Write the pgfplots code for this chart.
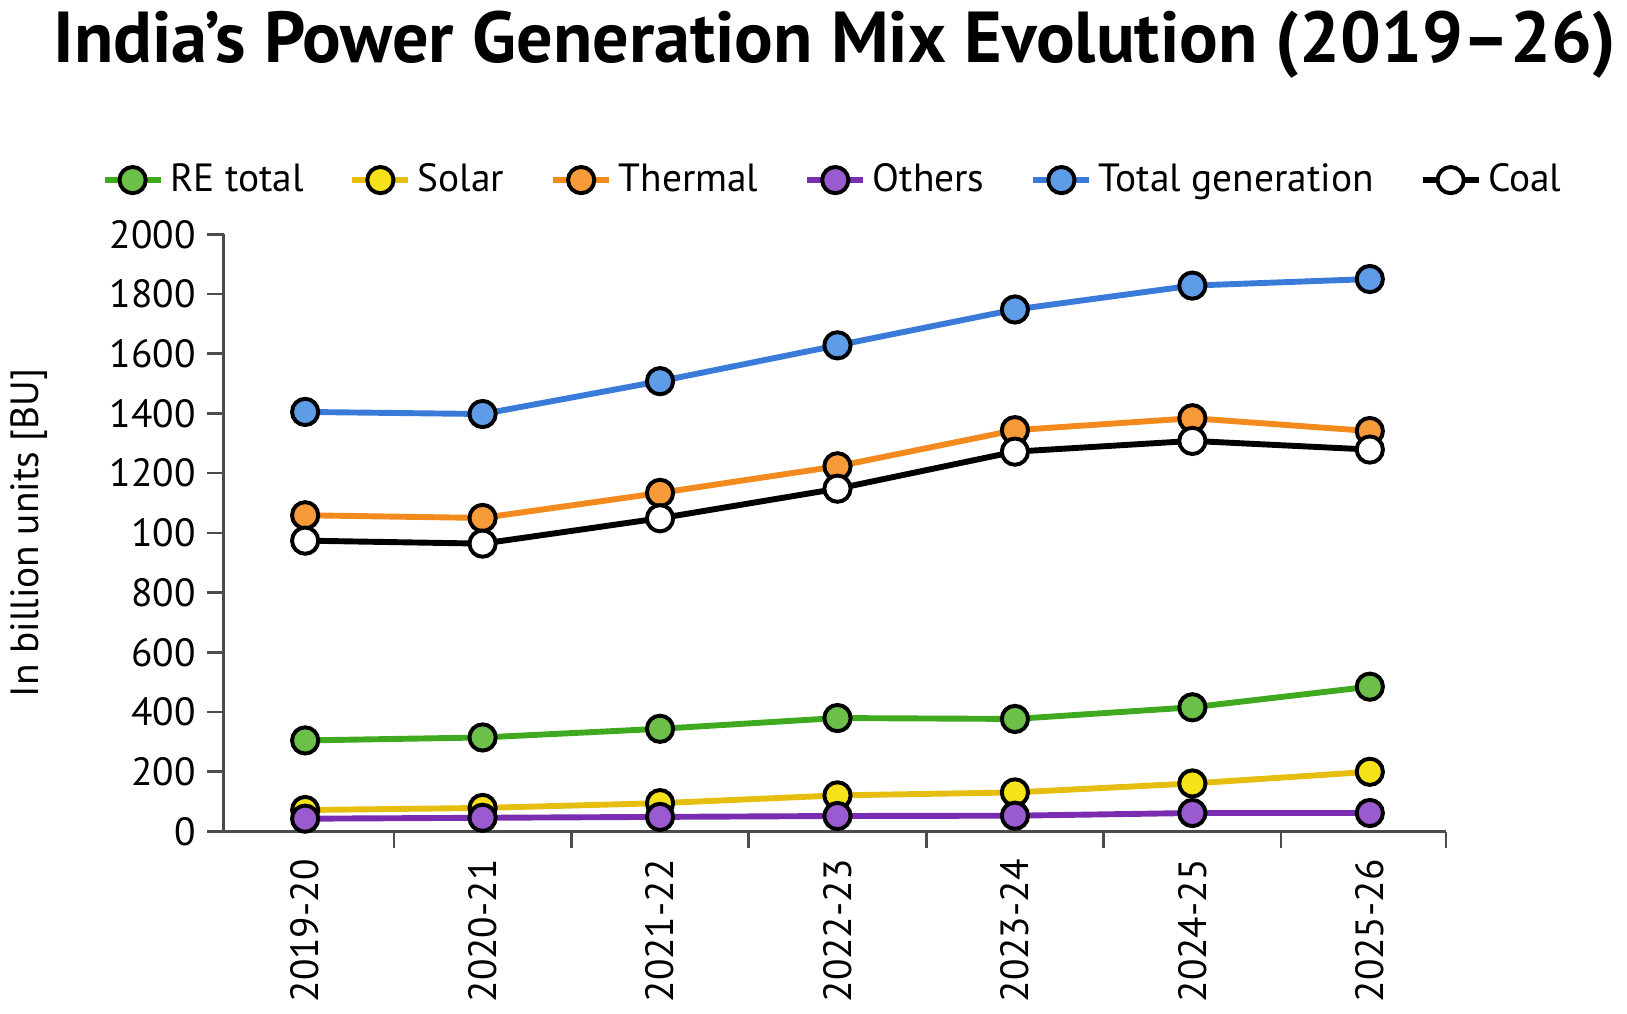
\documentclass[border=0pt]{standalone}
\usepackage{pgfplots}
\pgfplotsset{compat=1.18}
\usepackage{fontspec}
\setmainfont{PT Sans}
\definecolor{cre}{HTML}{3FAA1F}\definecolor{fre}{HTML}{6CC04A}
\definecolor{cso}{HTML}{E6BE10}\definecolor{fso}{HTML}{F7E21A}
\definecolor{cth}{HTML}{F28A1E}\definecolor{fth}{HTML}{F79A3A}
\definecolor{cot}{HTML}{7A2DB0}\definecolor{fot}{HTML}{9B5BD0}
\definecolor{cto}{HTML}{3A7BDA}\definecolor{fto}{HTML}{5E9CE8}
\begin{document}
\begin{tikzpicture}
\begin{axis}[
 scale only axis, width=13.1cm, height=6.4cm,
 xmin=-0.46, xmax=6.43, ymin=0, ymax=2000,
 axis lines=left, axis line style={-, thick, black!70},
 xtick={0,...,6}, xticklabels={2019-20,2020-21,2021-22,2022-23,2023-24,2024-25,2025-26},
 xticklabel style={rotate=90, anchor=east, font=\large},
 major x tick style={draw=none},
 minor xtick={0.5,1.5,2.5,3.5,4.5,5.5,6.43},
 minor x tick style={black!70, thick}, minor tick length=5pt,
 tick align=outside,
 ytick={0,200,...,2000}, yticklabels={0,200,400,600,800,100,1200,1400,1600,1800,2000},
 yticklabel style={font=\large},
 y tick style={black!70, thick}, major tick length=5pt,
 ylabel={In billion units [BU]}, ylabel style={font=\large, yshift=12pt},
 /pgf/number format/assume math mode=true,
 title={\bfseries India’s Power Generation Mix Evolution (2019–26)},
 title style={font=\fontsize{22}{26}\selectfont, yshift=38pt},
 legend columns=-1, legend style={draw=none, at={(0.5,1.04)}, anchor=south, font=\large, /tikz/every even column/.append style={column sep=12pt}},
 legend image code/.code={\draw[#1] (0cm,0cm) -- (0.6cm,0cm); \draw[#1, mark repeat=1] plot coordinates {(0.3cm,0cm)};},
 every axis plot/.append style={line width=1.8pt, mark=*, mark size=4pt},
]
\addplot[cre, mark options={fill=fre, draw=black, line width=1.2pt}] coordinates {(0,305)(1,315)(2,344)(3,380)(4,377)(5,416)(6,485)};
\addlegendentry{RE total}
\addplot[cso, mark options={fill=fso, draw=black, line width=1.2pt}] coordinates {(0,72)(1,79)(2,95)(3,121)(4,131)(5,161)(6,200)};
\addlegendentry{Solar}
\addplot[cth, mark options={fill=fth, draw=black, line width=1.2pt}] coordinates {(0,1059)(1,1050)(2,1134)(3,1223)(4,1344)(5,1384)(6,1341)};
\addlegendentry{Thermal}
\addplot[cot, mark options={fill=fot, draw=black, line width=1.2pt}] coordinates {(0,43)(1,46)(2,49)(3,52)(4,53)(5,62)(6,62)};
\addlegendentry{Others}
\addplot[cto, mark options={fill=fto, draw=black, line width=1.2pt}] coordinates {(0,1405)(1,1398)(2,1508)(3,1628)(4,1748)(5,1828)(6,1850)};
\addlegendentry{Total generation}
\addplot[black, mark options={fill=white, draw=black, line width=1.2pt}] coordinates {(0,974)(1,964)(2,1049)(3,1148)(4,1272)(5,1308)(6,1279)};
\addlegendentry{Coal}
\end{axis}
\end{tikzpicture}
\end{document}
